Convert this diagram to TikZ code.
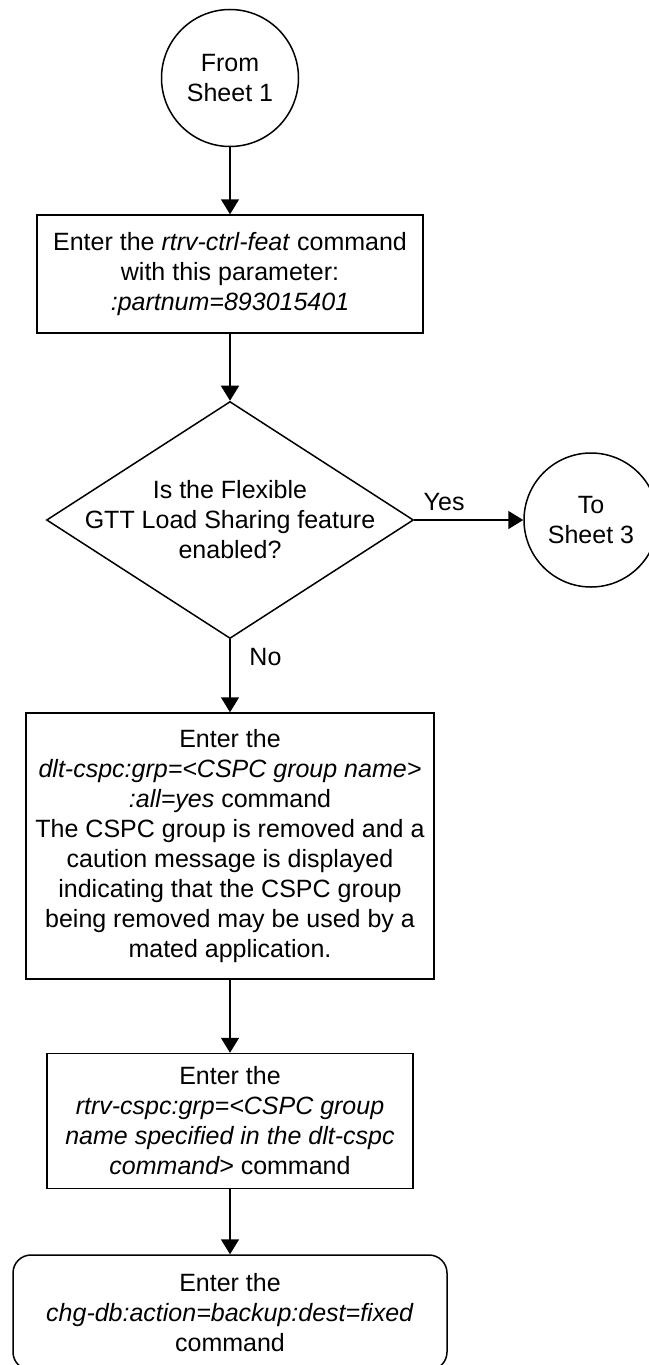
\documentclass[tikz,border=0pt]{standalone}
\usepackage{fontspec}
\setmainfont{Liberation Sans}
\usepackage{tikz}
\usetikzlibrary{shapes.geometric, arrows.meta, positioning}
\tikzset{
  block/.style={rectangle, draw=black, fill=white, align=center,
    inner xsep=2pt, line width=0.75pt},
  endblock/.style={block, rounded corners=9pt},
  decision/.style={diamond, draw=black, fill=white, align=center,
    aspect=1.549, inner sep=-8pt, minimum width=183.5pt,
    minimum height=118.5pt, line width=0.75pt},
  sheetnode/.style={circle, draw=black, fill=white, align=center,
    inner sep=0pt, line width=0.75pt},
  arrow/.style={-{Triangle[length=7.5pt, width=9pt]}, line width=0.8pt}
}

\begin{document}
\begin{tikzpicture}[every node/.style={font=\fontsize{12.5}{15}\selectfont}]
  \useasboundingbox (0,0) rectangle (324pt,-682.5pt);

  % Off-page connector in
  \node[sheetnode, minimum size=68.5pt] (from) at (115pt,-39pt) {From\\Sheet 1};

  % Feature check
  \node[block, below=33.5pt of from, minimum width=193pt, minimum height=59pt] (ctrlfeat)
    {Enter the \textit{rtrv-ctrl-feat} command\\with this parameter:\\\textit{:partnum=893015401}};
  \node[decision, below=33.5pt of ctrlfeat] (enabled)
    {Is the Flexible\\GTT Load Sharing feature\\enabled?};
  \node[sheetnode, minimum size=67pt, right=54.5pt of enabled] (sheet3) {To\\Sheet 3};

  % Remove the group
  \node[block, below=36.5pt of enabled, minimum width=204pt, minimum height=133pt] (dltcspc)
    {Enter the\\\textit{dlt-cspc:grp=<CSPC group name>}\\\textit{:all=yes} command\\The CSPC group is removed and a\\caution message is displayed\\indicating that the CSPC group\\being removed may be used by a\\mated application.};
  \node[block, below=36.5pt of dltcspc, minimum width=183pt, minimum height=67.5pt] (rtrvcspc)
    {Enter the\\\textit{rtrv-cspc:grp=<CSPC group}\\\textit{name specified in the dlt-cspc}\\\textit{command>} command};
  \node[endblock, below=32.5pt of rtrvcspc, minimum width=217pt, minimum height=57.5pt] (chgdb)
    {Enter the\\\textit{chg-db:action=backup:dest=fixed}\\command};

  % Connections
  \draw[arrow] (from) -- (ctrlfeat);
  \draw[arrow] (ctrlfeat) -- (enabled);
  \draw[arrow] (enabled) -- node[pos=0, above right, xshift=1pt, yshift=1pt] {Yes} (sheet3);
  \draw[arrow] (enabled) -- node[pos=0, below right, xshift=6pt, yshift=-1pt] {No} (dltcspc);
  \draw[arrow] (dltcspc) -- (rtrvcspc);
  \draw[arrow] (rtrvcspc) -- (chgdb);
\end{tikzpicture}
\end{document}
